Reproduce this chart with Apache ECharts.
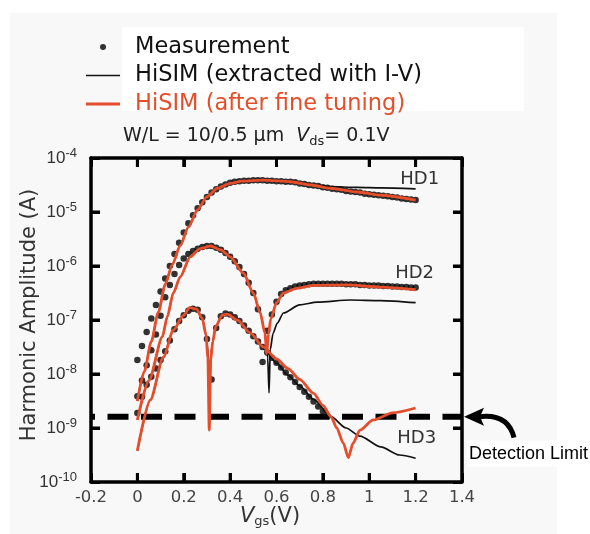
<!DOCTYPE html>
<html>
<head>
<meta charset="utf-8">
<script src="https://cdn.jsdelivr.net/npm/echarts@6/dist/echarts.min.js"></script>
<style>
html, body { margin: 0; padding: 0; background: #fff; }
#main { width: 590px; height: 534px; }
</style>
</head>
<body>
<div id="main"></div>
<script>
// gate voltage grid of the measurement (V)
var vgs = [0, 0.02, 0.04, 0.06, 0.08, 0.1, 0.12, 0.14, 0.16, 0.18, 0.2, 0.22, 0.24, 0.26, 0.28, 0.3,
  0.32, 0.34, 0.36, 0.38, 0.4, 0.42, 0.44, 0.46, 0.48, 0.5, 0.52, 0.54, 0.56, 0.58, 0.6,
  0.62, 0.64, 0.66, 0.68, 0.7, 0.72, 0.74, 0.76, 0.78, 0.8, 0.82, 0.84, 0.86, 0.88, 0.9,
  0.92, 0.94, 0.96, 0.98, 1, 1.02, 1.04, 1.06, 1.08, 1.1, 1.12, 1.14, 1.16, 1.18, 1.2];

// measured harmonic amplitudes, log10(A)
var hd1Meas = [-7.74, -7.48, -7.22, -6.97, -6.72, -6.47, -6.23, -6.00, -5.78, -5.57, -5.38, -5.21, -5.06, -4.93, -4.82, -4.72,
  -4.64, -4.58, -4.53, -4.49, -4.46, -4.44, -4.43, -4.42, -4.42, -4.41, -4.41, -4.41, -4.42, -4.42, -4.43,
  -4.43, -4.44, -4.44, -4.45, -4.47, -4.48, -4.50, -4.51, -4.52, -4.54, -4.55, -4.57, -4.58, -4.59, -4.61,
  -4.62, -4.63, -4.64, -4.66, -4.67, -4.68, -4.69, -4.70, -4.71, -4.72, -4.73, -4.75, -4.76, -4.77, -4.78];
var hd2Meas = [-8.41, -8.12, -7.84, -7.56, -7.27, -6.92, -6.58, -6.35, -6.15, -5.98, -5.86, -5.78, -5.72, -5.68, -5.65, -5.63,
  -5.63, -5.66, -5.70, -5.76, -5.83, -5.91, -6.02, -6.15, -6.31, -6.50, -6.80, -7.78, -7.20, -6.90, -6.66,
  -6.52, -6.45, -6.41, -6.38, -6.36, -6.35, -6.34, -6.33, -6.33, -6.33, -6.33, -6.33, -6.33, -6.33, -6.34,
  -6.34, -6.34, -6.35, -6.35, -6.36, -6.36, -6.36, -6.37, -6.37, -6.38, -6.38, -6.39, -6.39, -6.40, -6.40];
var hd3Meas = [-8.72, -8.42, -8.20, -8.05, -7.90, -7.74, -7.58, -7.38, -7.17, -7.02, -6.91, -6.83, -6.79, -6.81, -6.95, -7.35,
  -8.10, -7.15, -6.93, -6.88, -6.90, -6.95, -7.02, -7.10, -7.20, -7.30, -7.40, -7.50, -7.60, -7.70, -7.79,
  -7.88, -7.97, -8.06, -8.15, -8.24, -8.33, -8.42, -8.51, -8.60, -8.69, -8.78, null, null, null, null,
  null, null, null, null, null, null, null, null, null, null, null, null, null, null, null];

// HiSIM, extracted with I-V  [Vgs, log10(A)]
var hd1Ext = [[0, -8.5], [0.03, -7.95], [0.06, -7.4], [0.09, -6.86], [0.121, -6.33], [0.15, -5.98], [0.185, -5.62],
  [0.22, -5.28], [0.259, -4.96], [0.3, -4.72], [0.345, -4.56], [0.4, -4.47], [0.45, -4.43], [0.54, -4.41],
  [0.66, -4.44], [0.75, -4.5], [0.83, -4.53], [0.95, -4.545], [1.05, -4.555], [1.2, -4.57]];
var hd2Ext = [[0, -8.85], [0.05, -8.12], [0.108, -7.31], [0.129, -6.94], [0.155, -6.5], [0.185, -6.2], [0.228, -5.83],
  [0.27, -5.68], [0.315, -5.63], [0.36, -5.7], [0.4, -5.83], [0.457, -6.13], [0.5, -6.5], [0.53, -6.87],
  [0.55, -7.24], [0.562, -7.7], [0.568, -8.35], [0.573, -7.55], [0.585, -7.25], [0.603, -7.06], [0.63, -6.87],
  [0.7, -6.72], [0.776, -6.67], [0.918, -6.63], [1.05, -6.64], [1.2, -6.68]];
var hd3Ext = [[0, -9.42], [0.056, -8.48], [0.112, -7.69], [0.155, -7.19], [0.198, -6.92], [0.225, -6.77], [0.255, -6.8],
  [0.28, -6.97], [0.296, -7.28], [0.305, -7.6], [0.312, -8.3], [0.318, -7.6], [0.325, -7.4], [0.338, -7.12],
  [0.366, -6.91], [0.388, -6.89], [0.431, -7.0], [0.487, -7.24], [0.55, -7.55], [0.6, -7.8], [0.65, -8.02],
  [0.7, -8.22], [0.76, -8.47], [0.835, -8.79], [0.9, -9.0], [0.96, -9.15], [1.05, -9.35], [1.13, -9.5], [1.2, -9.56]];

// HiSIM, after fine tuning  [Vgs, log10(A)]
var hd1Fit = [[0, -8.5], [0.03, -7.95], [0.06, -7.4], [0.09, -6.86], [0.121, -6.33], [0.15, -5.98], [0.185, -5.62],
  [0.22, -5.28], [0.259, -4.96], [0.3, -4.72], [0.345, -4.56], [0.4, -4.47], [0.45, -4.43], [0.54, -4.41],
  [0.66, -4.44], [0.75, -4.5], [0.83, -4.56], [0.95, -4.63], [1.05, -4.69], [1.2, -4.78]];
var hd2Fit = [[0, -8.85], [0.05, -8.12], [0.108, -7.31], [0.129, -6.94], [0.155, -6.5], [0.185, -6.2], [0.228, -5.83],
  [0.27, -5.68], [0.315, -5.63], [0.36, -5.7], [0.4, -5.83], [0.457, -6.13], [0.5, -6.5], [0.53, -6.87],
  [0.55, -7.24], [0.558, -7.62], [0.566, -7.25], [0.575, -6.98], [0.6, -6.68], [0.63, -6.5], [0.69, -6.41],
  [0.76, -6.36], [0.9, -6.35], [1.05, -6.39], [1.2, -6.44]];
var hd3Fit = [[0, -9.42], [0.056, -8.48], [0.112, -7.69], [0.155, -7.19], [0.198, -6.92], [0.225, -6.77], [0.255, -6.8],
  [0.28, -6.97], [0.296, -7.28], [0.304, -7.7], [0.31, -9.04], [0.316, -7.75], [0.325, -7.4], [0.338, -7.12],
  [0.366, -6.91], [0.388, -6.89], [0.431, -7.0], [0.487, -7.24], [0.543, -7.5], [0.6, -7.72], [0.65, -7.9],
  [0.7, -8.1], [0.76, -8.36], [0.8, -8.58], [0.835, -8.79], [0.86, -9.0], [0.888, -9.28], [0.91, -9.55],
  [0.93, -9.28], [0.96, -9.04], [1.017, -8.85], [1.1, -8.72], [1.2, -8.63]];

var detLimit = -8.79;   // log10(A) of the detection limit
var hdLabels = [['HD1', 1.134, -4.39], ['HD2', 1.112, -6.13], ['HD3', 1.121, -9.2]];
var xTicks = { min: -0.2, max: 1.4, step: 0.2 };
var xTickVals = [0, 0.2, 0.4, 0.6, 0.8, 1, 1.2];
var yDecades = { min: -10, max: -4 };
var yTickExps = [-9, -8, -7, -6, -5];

var red = '#e64d2b';
var font = 'DejaVu Sans';

function measPairs(arr) {
  var out = [];
  for (var i = 0; i < arr.length; i++) {
    if (arr[i] != null) out.push([vgs[i], Math.pow(10, arr[i])]);
  }
  return out;
}
function linePairs(arr) {
  return arr.map(function (p) { return [p[0], Math.pow(10, p[1])]; });
}

var measName = 'Measurement';
var extName = 'HiSIM (extracted with I-V)';
var fitName = 'HiSIM (after fine tuning)';

var series = [];
// detection limit, dashed across the whole plot
series.push({
  name: 'Detection Limit', type: 'line', showSymbol: false, symbol: 'none', silent: true, z: 1,
  data: [[xTicks.min, Math.pow(10, detLimit)], [xTicks.max, Math.pow(10, detLimit)]],
  lineStyle: { color: '#000', width: 6, type: [21, 12.5], dashOffset: 17 }
});
[hd1Meas, hd2Meas, hd3Meas].forEach(function (d) {
  series.push({
    name: measName, type: 'scatter', data: measPairs(d), symbolSize: 6.5,
    itemStyle: { color: '#000' }, z: 2
  });
});
[hd1Ext, hd2Ext, hd3Ext].forEach(function (d) {
  series.push({
    name: extName, type: 'line', data: linePairs(d), showSymbol: false, symbol: 'none',
    smooth: 0.25, smoothMonotone: 'x',
    lineStyle: { color: '#111', width: 1.7 }, itemStyle: { color: '#111' }, z: 3
  });
});
[hd1Fit, hd2Fit, hd3Fit].forEach(function (d) {
  series.push({
    name: fitName, type: 'line', data: linePairs(d), showSymbol: false, symbol: 'none',
    smooth: 0.25, smoothMonotone: 'x',
    lineStyle: { color: red, width: 2.8 }, itemStyle: { color: red }, z: 4
  });
});

// inward frame ticks as short two-point line series in axis units
// (9 px is about 0.167 decade vertically and 0.039 V horizontally)
var tickDec = 0.167, tickV = 0.039;
function tickSeries(a, b) {
  series.push({
    name: 'tick', type: 'line', silent: true, showSymbol: false, symbol: 'none', z: 10,
    data: [a, b], lineStyle: { color: '#000', width: 3 }
  });
}
xTickVals.forEach(function (v) {
  tickSeries([v, Math.pow(10, yDecades.min)], [v, Math.pow(10, yDecades.min + tickDec)]);
  tickSeries([v, Math.pow(10, yDecades.max)], [v, Math.pow(10, yDecades.max - tickDec)]);
});
yTickExps.forEach(function (e) {
  tickSeries([xTicks.min, Math.pow(10, e)], [xTicks.min + tickV, Math.pow(10, e)]);
  tickSeries([xTicks.max, Math.pow(10, e)], [xTicks.max - tickV, Math.pow(10, e)]);
});

function frameAxis(extra) {
  var a = {
    axisLine: { show: true, onZero: false, lineStyle: { color: '#000', width: 3.5 } },
    axisTick: { show: true, inside: true, length: 9, lineStyle: { color: '#000', width: 3 } },
    splitLine: { show: false },
    z: 5
  };
  for (var k in extra) a[k] = extra[k];
  return a;
}

// legend icons: a 44 px wide box so the text sits where the original has it
var dotIcon = 'path://M44 3M0 3M17 0A3 3 0 1 1 17 6A3 3 0 1 1 17 0Z';
var thinIcon = 'path://M44 0.85M0 0H34V1.7H0Z';
var thickIcon = 'path://M44 1.5M0 0H34V3H0Z';

var myChart = echarts.init(document.getElementById('main'));
myChart.setOption({
  animation: false,
  backgroundColor: '#fff',
  textStyle: { fontFamily: font },
  grid: { left: 91, right: 128, top: 158, bottom: 52 },
  legend: {
    orient: 'vertical', left: 86, top: 35, padding: 0,
    itemWidth: 44, itemHeight: 6, itemGap: 4.5,
    textStyle: { fontFamily: font, fontSize: 22.5, color: '#111', lineHeight: 24 },
    data: [
      { name: measName, icon: dotIcon },
      { name: extName, icon: thinIcon },
      { name: fitName, icon: thickIcon, textStyle: { color: red } }
    ]
  },
  xAxis: [frameAxis({
    type: 'value', min: xTicks.min, max: xTicks.max, interval: xTicks.step,
    axisLabel: { fontFamily: font, fontSize: 16.5, color: '#444', margin: 7 }
  }), frameAxis({
    type: 'value', position: 'top', min: xTicks.min, max: xTicks.max, interval: xTicks.step,
    axisLabel: { show: false }
  })],
  yAxis: [frameAxis({
    type: 'log', logBase: 10, min: Math.pow(10, yDecades.min), max: Math.pow(10, yDecades.max), interval: 1,
    minorTick: { show: false },
    axisLabel: {
      margin: 14, color: '#333',
      formatter: function (v) {
        return '{b|10}{s|' + Math.round(Math.log10(v)) + '}';
      },
      rich: {
        b: { fontFamily: 'Liberation Sans', fontSize: 17, color: '#333' },
        s: { fontFamily: 'Liberation Sans', fontSize: 13, color: '#333', padding: [0, 0, 10, 0] }
      }
    }
  }), frameAxis({
    type: 'log', logBase: 10, position: 'right', min: Math.pow(10, yDecades.min), max: Math.pow(10, yDecades.max), interval: 1,
    minorTick: { show: false },
    axisLabel: { show: false }
  })],
  series: series
});

// annotations placed from the axes
var yDet = myChart.convertToPixel({ yAxisIndex: 0 }, Math.pow(10, detLimit));
var xEnd = myChart.convertToPixel({ xAxisIndex: 0 }, xTicks.max);

var graphics = [
  { type: 'rect', z: -10, silent: true, shape: { x: 10, y: 13, width: 547, height: 521 }, style: { fill: '#f8f8f8' } },
  { type: 'rect', z: -9, silent: true, shape: { x: 122, y: 27, width: 402, height: 84 }, style: { fill: '#fff' } },
  {
    type: 'text', left: 123, top: 127, z: 5,
    style: {
      text: '{a|W/L = 10/0.5 \u00b5m  }{v|V}{s|ds}{a|= 0.1V}',
      rich: {
        a: { fontFamily: font, fontSize: 19, fill: '#222' },
        v: { fontFamily: font, fontSize: 19, fill: '#222', fontStyle: 'italic' },
        s: { fontFamily: font, fontSize: 13, fill: '#222', padding: [10, 0, 0, 0] }
      }
    }
  },
  {
    type: 'text', x: 30, y: 315, rotation: Math.PI / 2, z: 5,
    style: { text: 'Harmonic Amplitude (A)', font: '21px "' + font + '"', fill: '#333', align: 'center', verticalAlign: 'middle' }
  },
  {
    type: 'text', x: 270, y: 517, z: 5,
    style: {
      text: '{v|V}{s|gs}{a|(V)}', align: 'center', verticalAlign: 'middle',
      rich: {
        v: { fontFamily: font, fontSize: 21, fill: '#333', fontStyle: 'italic' },
        s: { fontFamily: font, fontSize: 13, fill: '#333', padding: [10, 0, 0, 0] },
        a: { fontFamily: font, fontSize: 21, fill: '#333' }
      }
    }
  },
  { type: 'rect', z: 5, shape: { x: 467, y: yDet + 24, width: 123, height: 26 }, style: { fill: '#fff' } },
  {
    type: 'text', x: 469, y: yDet + 37, z: 6,
    style: { text: 'Detection Limit', font: '18px "Liberation Sans"', fill: '#000', verticalAlign: 'middle' }
  },
  {
    type: 'bezierCurve', z: 6,
    shape: { x1: xEnd + 18, y1: yDet, cpx1: xEnd + 46, cpy1: yDet - 3, x2: xEnd + 52, y2: yDet + 21 },
    style: { stroke: '#000', lineWidth: 5, fill: null }
  },
  {
    type: 'polygon', z: 6,
    shape: { points: [[xEnd + 2, yDet], [xEnd + 22, yDet - 9], [xEnd + 18, yDet], [xEnd + 22, yDet + 9]] },
    style: { fill: '#000' }
  }
];
hdLabels.forEach(function (h) {
  var p = myChart.convertToPixel({ xAxisIndex: 0, yAxisIndex: 0 }, [h[1], Math.pow(10, h[2])]);
  graphics.push({
    type: 'text', x: p[0], y: p[1], z: 5,
    style: { text: h[0], font: '18px "' + font + '"', fill: '#333', verticalAlign: 'middle' }
  });
});
myChart.setOption({ graphic: graphics });
</script>
</body>
</html>
